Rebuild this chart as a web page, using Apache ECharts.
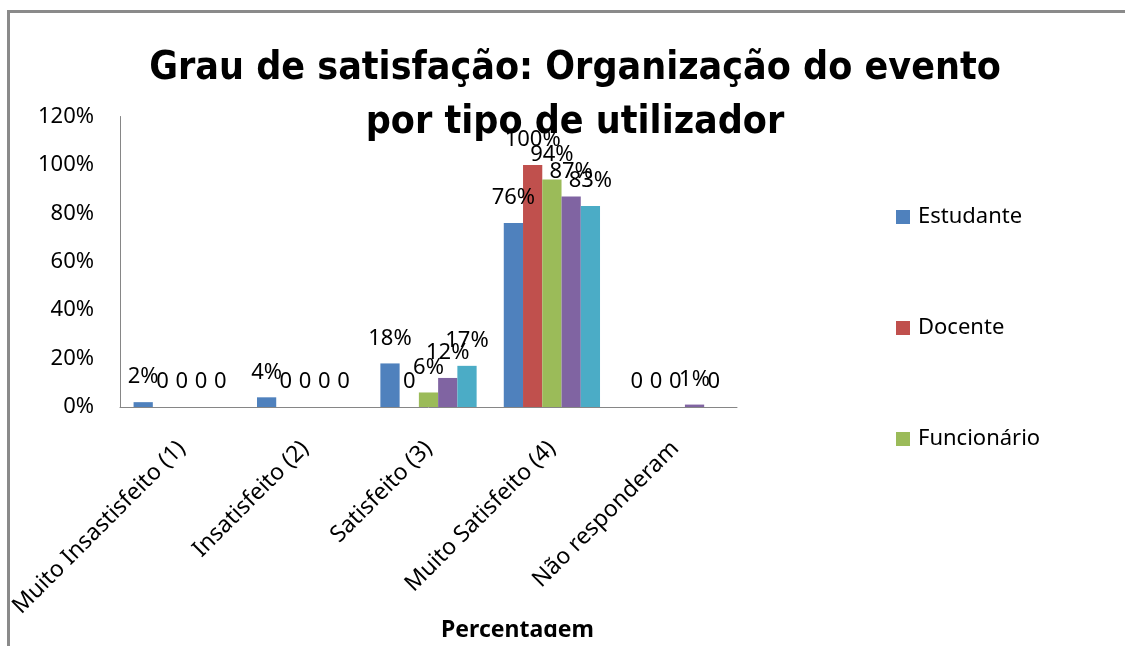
<!DOCTYPE html>
<html>
<head>
<meta charset="utf-8">
<title>Grau de satisfação: Organização do evento</title>
<script src="https://cdn.jsdelivr.net/npm/echarts@6/dist/echarts.min.js"></script>
<style>
  html, body { margin: 0; padding: 0; background: #ffffff; }
  #chart { position: absolute; left: 0; top: 0; width: 1125px; height: 637px; }
  #frame {
    position: absolute; left: 7px; top: 10px; width: 1118px; height: 636px;
    box-sizing: border-box; border-top: 3px solid #8a8a8a; border-left: 3px solid #8a8a8a;
    pointer-events: none;
  }
</style>
</head>
<body>
<div id="chart"></div>
<div id="frame"></div>
<script>
// Satisfaction categories (x axis)
const categories = ['Muito Insastisfeito (1)', 'Insatisfeito (2)', 'Satisfeito (3)', 'Muito Satisfeito (4)', 'Não responderam'];

// Percentage of answers per user type
const estudante   = [2, 4, 18, 76, 0];
const docente     = [0, 0, 0, 100, 0];
const funcionario = [0, 0, 6, 94, 0];
const serie4      = [0, 0, 12, 87, 1];
const serie5      = [0, 0, 17, 83, 0];

// Value axis ticks (percent)
const yMin = 0, yMax = 120, yStep = 20;

const seriesNames  = ['Estudante', 'Docente', 'Funcionário', 'Série 4', 'Série 5'];
const seriesValues = [estudante, docente, funcionario, serie4, serie5];
const legendNames  = ['Estudante', 'Docente', 'Funcionário'];
const palette      = ['#4F81BD', '#C0504D', '#9BBB59', '#8064A2', '#4BACC6'];

const baseFont = "'Noto Sans', 'Open Sans', sans-serif";
const axisGray = '#868686';

const chart = echarts.init(document.getElementById('chart'), null, { renderer: 'canvas' });

chart.setOption({
  animation: false,
  backgroundColor: 'transparent',
  color: palette,
  textStyle: { fontFamily: baseFont, color: '#000' },
  title: {
    text: 'Grau de satisfação: Organização do evento\npor tipo de utilizador',
    left: 575,
    textAlign: 'center',
    top: 42,
    padding: 0,
    textStyle: {
      fontFamily: "'DejaVu Sans Condensed', 'DejaVu Sans', sans-serif",
      fontWeight: 'bold',
      fontSize: 39,
      lineHeight: 54,
      color: '#000'
    }
  },
  legend: {
    data: legendNames,
    orient: 'vertical',
    left: 896,
    top: 206,
    padding: 0,
    itemWidth: 14,
    itemHeight: 14,
    itemGap: 89,
    icon: 'rect',
    textStyle: { fontFamily: baseFont, fontSize: 22, lineHeight: 22, color: '#000', padding: [0, 0, 0, 3] }
  },
  grid: { left: 120, right: 388, top: 116.5, bottom: 230, containLabel: false, outerBoundsMode: 'none' },
  xAxis: {
    type: 'category',
    data: categories,
    name: 'Percentagem',
    nameLocation: 'middle',
    nameGap: 212,
    nameMoveOverlap: false,
    nameTextStyle: { fontFamily: baseFont, fontSize: 23, fontWeight: 'bold', color: '#000', padding: [0, 0, 0, 178] },
    axisLine: { lineStyle: { color: axisGray, width: 1 } },
    axisTick: { show: false },
    axisLabel: { interval: 0, rotate: 45, margin: 38, fontSize: 23, fontFamily: baseFont, color: '#000' },
    splitLine: { show: false }
  },
  yAxis: {
    type: 'value',
    min: yMin,
    max: yMax,
    interval: yStep,
    axisLine: { show: true, lineStyle: { color: axisGray, width: 1 } },
    axisTick: { show: false },
    splitLine: { show: false },
    axisLabel: { formatter: '{value}%', margin: 26, fontSize: 22, fontFamily: baseFont, color: '#000' }
  },
  series: seriesNames.map((name, i) => ({
    name: name,
    type: 'bar',
    data: seriesValues[i],
    barGap: '0%',
    barCategoryGap: '22%',
    label: {
      show: true,
      position: 'top',
      distance: 14,
      fontSize: 22,
      fontFamily: baseFont,
      color: '#000',
      formatter: p => (p.value === 0 ? '0' : p.value + '%')
    }
  }))
});
</script>
</body>
</html>
